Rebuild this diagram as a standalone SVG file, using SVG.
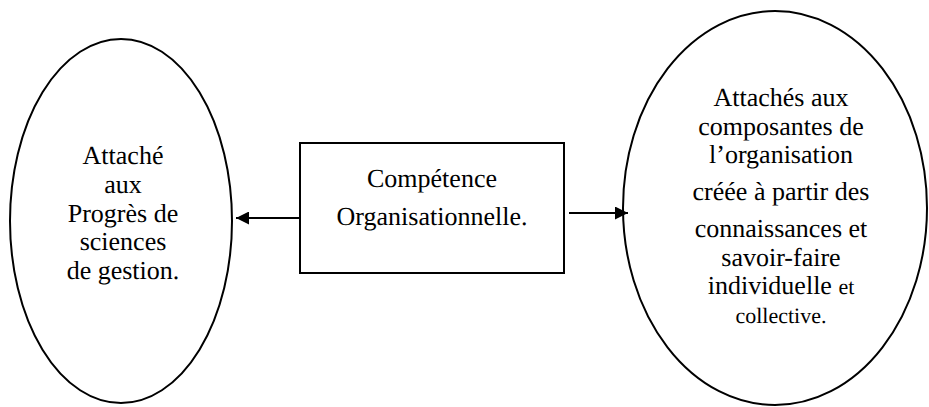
<svg xmlns="http://www.w3.org/2000/svg" width="929" height="407" viewBox="0 0 929 407">
  <style>
    .shape { fill: #fff; stroke: #000; stroke-width: 2; }
    .link { stroke: #000; stroke-width: 2; fill: none; }
    .lbl { font-family: 'Liberation Serif', 'Times New Roman', Times, serif; font-size: 26px; fill: #000; text-anchor: middle; text-rendering: geometricPrecision; }
    .sm { font-size: 22px; }
  </style>
  <defs>
    <marker id="arrow" viewBox="0 0 10 10" refX="10" refY="5" markerWidth="7" markerHeight="6.5" orient="auto" markerUnits="strokeWidth">
      <path d="M0,0 L10,5 L0,10 z" fill="#000"/>
    </marker>
  </defs>

  <g id="node-left">
    <ellipse class="shape" cx="121" cy="221" rx="111" ry="182"/>
    <g class="lbl">
      <text x="123" y="164">Attaché</text>
      <text x="123" y="193">aux</text>
      <text x="123" y="222">Progrès de</text>
      <text x="123" y="250">sciences</text>
      <text x="123" y="279">de gestion.</text>
    </g>
  </g>

  <g id="node-center">
    <rect class="shape" x="300" y="143" width="264" height="130"/>
    <g class="lbl">
      <text x="432" y="187">Compétence</text>
      <text x="432" y="225">Organisationnelle.</text>
    </g>
  </g>

  <g id="node-right">
    <ellipse class="shape" cx="775" cy="208" rx="152" ry="197"/>
    <g class="lbl">
      <text x="781" y="106">Attachés aux</text>
      <text x="781" y="135">composantes de</text>
      <text x="781" y="163">l’organisation</text>
      <text x="781" y="200">créée à partir des</text>
      <text x="781" y="237">connaissances et</text>
      <text x="781" y="266">savoir-faire</text>
      <text x="781" y="294">individuelle <tspan class="sm">et</tspan></text>
      <text x="781" y="323" class="sm">collective.</text>
    </g>
  </g>

  <g id="connectors">
    <line class="link" x1="300" y1="218" x2="236" y2="218" marker-end="url(#arrow)"/>
    <line class="link" x1="569" y1="213" x2="628" y2="213" marker-end="url(#arrow)"/>
  </g>
</svg>
